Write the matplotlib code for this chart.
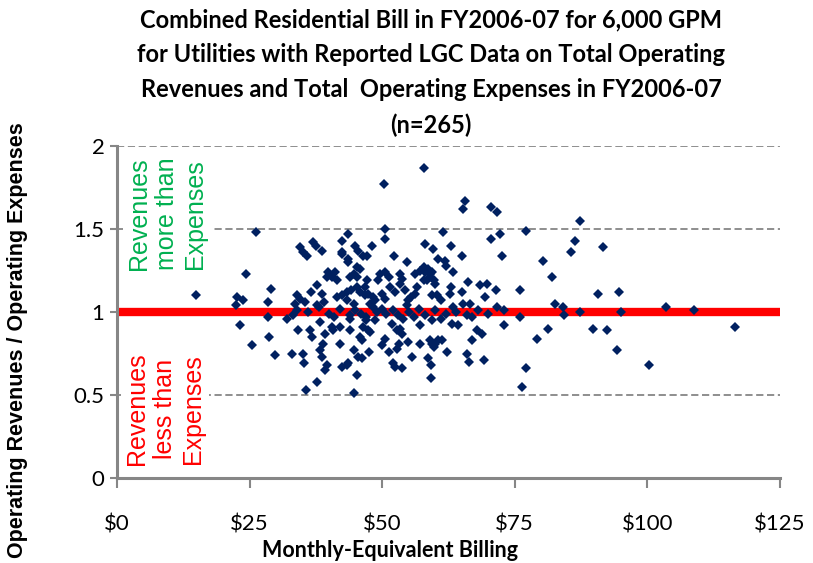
import matplotlib
matplotlib.use("Agg")
import matplotlib.pyplot as plt

# Monthly-equivalent bill ($) and revenues/expenses ratio
bill = [
    14.9, 22.4, 22.6, 23.8, 24.3, 26.2, 28.4, 29.0, 28.4, 23.2, 28.7, 25.5, 29.7,
    32.9, 35.1, 35.3, 34.2, 36.3, 36.8, 32.0, 33.2, 33.9, 38.0, 38.3, 39.2, 38.9,
    38.3, 38.6, 39.5, 39.2, 37.8, 35.6, 40.5, 40.8, 42.0, 42.0, 42.4, 43.6, 43.9,
    43.9, 44.9, 45.2, 44.7, 44.6, 45.5, 45.8, 46.4, 46.9, 47.6, 47.7, 48.6, 48.3,
    50.5, 49.9, 51.2, 50.8, 51.8, 52.1, 52.4, 53.8, 52.7, 53.2, 53.4, 54.9, 55.7,
    57.1, 57.1, 58.7, 59.2, 59.2, 59.3, 59.7, 59.3, 60.6,
    61.2, 62.3, 63.1, 64.3, 65.9, 66.4, 66.9, 67.9, 68.8, 69.2, 71.6, 73.0, 76.0,
    77.2, 76.3, 79.2, 81.3, 82.6, 84.0, 84.2, 87.3, 89.7, 92.3, 94.2, 95.0, 100.3,
    103.6, 108.8, 116.5,
    87.2, 91.7, 90.6, 94.6, 57.8, 65.6, 65.3, 70.5, 71.7, 61.5, 72.2, 70.6, 77.2,
    86.3, 85.6, 58.1, 59.6, 62.9, 65.0, 72.5, 80.3, 82.1, 76.0, 60.6, 61.8, 62.1,
    63.4, 58.1, 59.3, 57.8, 59.0, 60.0, 66.2, 65.0, 68.4, 69.7, 71.4, 62.8, 59.3,
    60.3, 69.4, 65.3, 66.6, 63.4,
    50.4, 50.5, 50.5, 43.6, 42.4, 37.0, 37.6, 38.6, 34.5, 35.1, 35.8, 44.9, 45.5,
    46.4, 47.1, 48.0, 42.4, 52.3, 54.6, 43.6, 45.2, 44.6, 39.8, 40.5, 41.1, 39.5,
    41.4, 37.8, 38.6, 43.9, 45.2, 45.8, 47.1, 46.8, 49.6, 50.5, 51.2, 49.3, 53.4,
    53.7, 53.4, 54.3, 56.2, 57.1, 57.8, 58.7, 59.0, 59.7, 58.4, 56.5, 56.2, 55.5,
    54.9, 54.6, 33.9, 34.5, 35.4, 33.6, 37.8, 41.4, 42.4, 43.3, 44.2, 45.2, 45.8,
    46.8, 47.4, 48.3, 43.3, 44.6, 47.7, 48.6, 49.9, 50.5, 42.4, 43.6,
    36.0, 40.0, 42.0, 46.0, 49.0, 52.0, 53.0, 55.0, 57.0, 58.0, 60.0, 62.0, 64.0,
    66.0, 68.0, 70.0, 73.0, 56.0, 61.0, 47.0, 44.0, 50.0, 54.0, 67.0, 41.0,
    46.1, 43.3, 46.2, 47.4, 53.7, 52.7, 59.0, 60.0, 39.0, 36.5, 51.5, 52.5, 61.0,
    63.0,
]
ratio = [
    1.10, 1.04, 1.09, 1.07, 1.23, 1.48, 1.06, 1.14, 0.97, 0.92, 0.85, 0.80, 0.74,
    0.75, 0.75, 0.69, 0.89, 0.89, 0.85, 0.96, 0.98, 1.01, 1.03, 0.94, 0.87, 0.81,
    0.77, 0.73, 0.68, 0.65, 0.58, 0.53, 0.91, 0.89, 0.91, 0.81, 0.67, 0.69, 0.89,
    0.96, 1.01, 0.62, 0.51, 0.77, 0.73, 0.85, 0.91, 0.95, 0.76, 0.88, 0.95, 1.03,
    0.84, 0.80, 0.76, 0.99, 0.93, 0.69, 0.67, 0.66, 0.78, 0.81, 0.90, 0.82, 0.73,
    0.92, 0.81, 0.72, 0.68, 0.60, 0.81, 0.79, 0.95, 0.83,
    0.83, 0.76, 0.93, 0.92, 0.75, 0.70, 0.83, 0.89, 0.87, 0.71, 1.03, 0.92, 0.97,
    0.66, 0.55, 0.84, 0.90, 1.05, 1.03, 0.98, 1.00, 0.90, 0.89, 0.77, 1.00, 0.68,
    1.03, 1.01, 0.91,
    1.55, 1.39, 1.11, 1.12, 1.87, 1.67, 1.62, 1.63, 1.60, 1.48, 1.47, 1.44, 1.49,
    1.43, 1.36, 1.41, 1.38, 1.40, 1.34, 1.34, 1.31, 1.21, 1.13, 1.32, 1.31, 1.28,
    1.24, 1.24, 1.24, 1.19, 1.21, 1.17, 1.18, 1.12, 1.16, 1.17, 1.13, 1.11, 1.10,
    1.10, 1.09, 1.05, 1.05, 1.03,
    1.77, 1.50, 1.44, 1.47, 1.43, 1.42, 1.40, 1.37, 1.39, 1.36, 1.34, 1.40, 1.37,
    1.34, 1.34, 1.40, 1.35, 1.34, 1.30, 1.30, 1.27, 1.23, 1.24, 1.21, 1.24, 1.21,
    1.19, 1.16, 1.11, 1.21, 1.21, 1.26, 1.19, 1.15, 1.23, 1.24, 1.21, 1.19, 1.23,
    1.20, 1.17, 1.13, 1.23, 1.25, 1.27, 1.26, 1.23, 1.19, 1.19, 1.15, 1.11, 1.09,
    1.07, 1.04, 1.10, 1.08, 1.06, 1.05, 1.04, 1.09, 1.10, 1.12, 1.13, 1.15, 1.12,
    1.10, 1.11, 1.09, 1.07, 1.05, 1.05, 1.07, 1.11, 1.08, 1.36, 1.32,
    1.00, 0.99, 1.02, 0.99, 1.00, 1.01, 0.98, 1.00, 1.02, 0.98, 1.01, 0.99, 1.00,
    0.98, 1.01, 0.99, 1.01, 0.97, 0.96, 0.97, 0.98, 1.02, 0.96, 0.97, 0.97,
    0.72, 0.68, 0.83, 0.89, 0.87, 0.89, 0.83, 0.81, 1.06, 1.12, 1.15, 1.12, 1.07,
    1.15,
]
BREAKEVEN = 1.0

X_TICKS = [0, 25, 50, 75, 100, 125]
Y_TICKS = [0, 0.5, 1, 1.5, 2]
Y_LABELS = ["0", "0.5", "1", "1.5", "2"]

TITLE = ("Combined Residential Bill in FY2006-07 for 6,000 GPM\n"
         "for Utilities with Reported LGC Data on Total Operating\n"
         "Revenues and Total  Operating Expenses in FY2006-07\n"
         "(n=265)")

GREY = "#868686"
NAVY = "#002060"
TITLE_FONT = ["Lato", "DejaVu Sans"]

fig = plt.figure(figsize=(8.13, 5.63), dpi=100)
ax = fig.add_axes([117 / 813, 1 - 478 / 563, 663 / 813, 332 / 563])

ax.axhline(BREAKEVEN, color="#FF0000", linewidth=6, zorder=2)
ax.plot(bill, ratio, linestyle="none", marker="D", markersize=5,
        color=NAVY, markeredgewidth=0, zorder=3)

ax.set_xlim(0, 125)
ax.set_ylim(0, 2)
ax.set_xticks(X_TICKS)
ax.set_xticklabels([f"${v}" for v in X_TICKS], fontsize=16, family=TITLE_FONT)
ax.set_yticks(Y_TICKS)
ax.set_yticklabels(Y_LABELS, fontsize=16, family=TITLE_FONT)
ax.tick_params(axis="x", length=7, width=1.5, color=GREY, pad=19)
ax.tick_params(axis="y", length=5, width=1.5, color=GREY, pad=4)

ax.grid(axis="y", color=GREY, linestyle=(0, (4, 2)), linewidth=1.3, zorder=0)
ax.set_axisbelow(True)
for side in ("top", "right"):
    ax.spines[side].set_visible(False)
for side in ("left", "bottom"):
    ax.spines[side].set_color(GREY)
    ax.spines[side].set_linewidth(2.2)

box = dict(facecolor="white", edgecolor="none", pad=3)
ax.text(9.4, 1.59, "Revenues\nmore than\nExpenses", rotation=90,
        color="#00B050", fontsize=18, family="Liberation Sans",
        ha="center", va="center", multialignment="center", bbox=box, zorder=4)
ax.text(9.0, 0.415, "Revenues\nless than\nExpenses", rotation=90,
        color="#FF0000", fontsize=18, family="Liberation Sans",
        ha="center", va="center", multialignment="center", bbox=box, zorder=4)

fig.text(0.53, 0.985, TITLE, ha="center", va="top", fontsize=17,
         fontweight="bold", family=TITLE_FONT, linespacing=1.62)
fig.text(0.48, 0.023, "Monthly-Equivalent Billing", ha="center", va="center",
         fontsize=15.5, fontweight="bold", family=TITLE_FONT)
fig.text(0.022, 0.396, "Operating Revenues / Operating Expenses", rotation=90,
         ha="center", va="center", fontsize=15.5, fontweight="bold",
         family="Liberation Sans")

fig.savefig("out.png", dpi=100)
